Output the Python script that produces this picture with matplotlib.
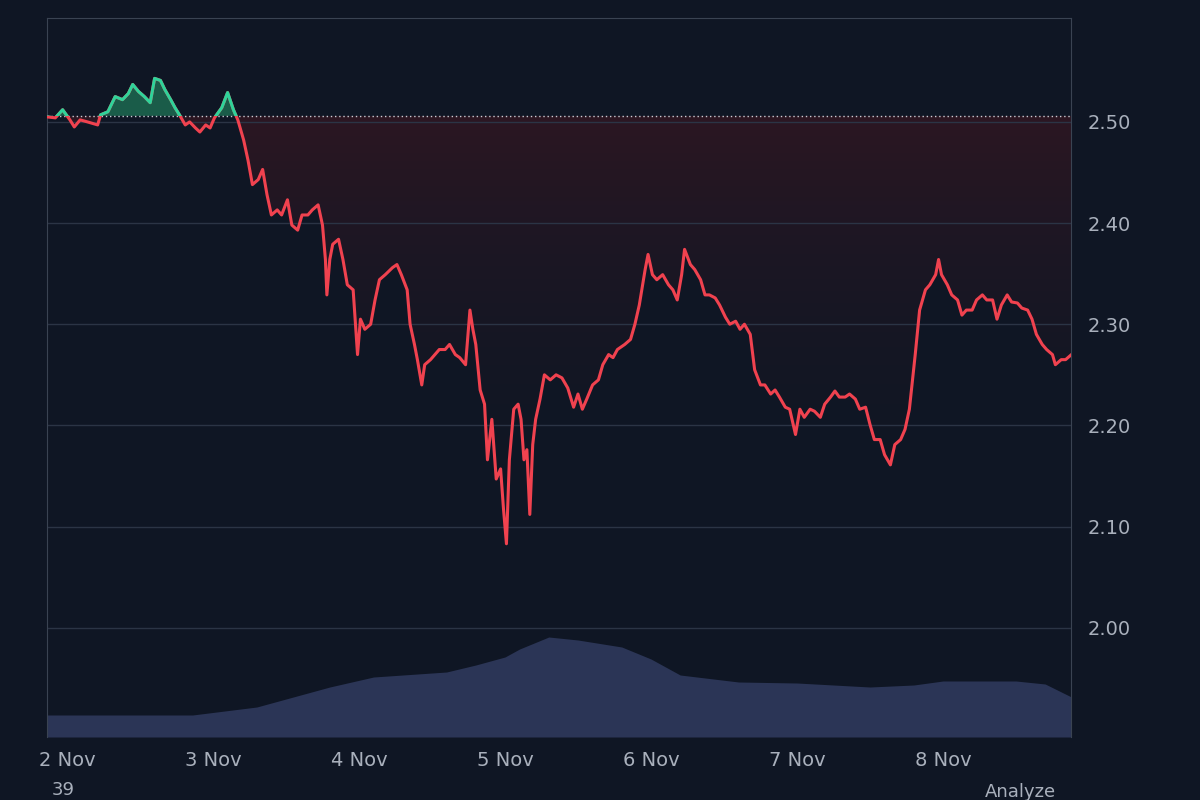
import numpy as np
import matplotlib.pyplot as plt
from matplotlib.colors import LinearSegmentedColormap
from matplotlib.path import Path
from matplotlib.patches import Rectangle

times = [-0.14,-0.08,-0.03,0.02,0.05,0.09,0.14,0.21,0.23,0.28,0.33,0.38,0.42,0.45,0.49,0.53,0.57,0.60,0.64,0.67,0.71,0.74,0.77,0.81,0.84,0.88,0.91,0.95,0.98,1.01,1.06,1.10,1.14,1.17,1.21,1.24,1.27,1.31,1.34,1.37,1.40,1.44,1.47,1.51,1.54,1.58,1.61,1.65,1.68,1.72,1.75,1.77,1.78,1.80,1.82,1.86,1.89,1.92,1.96,1.99,2.01,2.04,2.08,2.11,2.14,2.18,2.23,2.26,2.29,2.33,2.35,2.38,2.40,2.43,2.45,2.49,2.52,2.55,2.59,2.62,2.66,2.69,2.73,2.76,2.78,2.80,2.83,2.86,2.88,2.91,2.94,2.97,2.99,3.01,3.03,3.06,3.09,3.11,3.13,3.15,3.17,3.19,3.21,3.24,3.27,3.31,3.35,3.39,3.43,3.47,3.50,3.53,3.56,3.60,3.64,3.67,3.71,3.74,3.77,3.82,3.86,3.89,3.92,3.96,3.98,4.01,4.04,4.08,4.12,4.15,4.18,4.21,4.23,4.27,4.30,4.34,4.37,4.40,4.44,4.47,4.51,4.54,4.58,4.61,4.64,4.68,4.71,4.75,4.78,4.82,4.85,4.88,4.92,4.95,4.99,5.02,5.05,5.09,5.12,5.16,5.19,5.23,5.26,5.29,5.33,5.36,5.40,5.43,5.47,5.50,5.53,5.57,5.60,5.64,5.67,5.71,5.74,5.77,5.81,5.84,5.88,5.91,5.95,5.97,5.99,6.03,6.06,6.10,6.13,6.16,6.20,6.23,6.27,6.30,6.34,6.37,6.40,6.44,6.47,6.51,6.54,6.58,6.61,6.64,6.68,6.71,6.75,6.77,6.81,6.84,6.88]
price = [2.505,2.504,2.512,2.502,2.495,2.502,2.500,2.497,2.507,2.510,2.525,2.522,2.528,2.537,2.530,2.525,2.519,2.543,2.541,2.532,2.522,2.514,2.507,2.497,2.500,2.494,2.490,2.497,2.494,2.504,2.514,2.529,2.512,2.502,2.482,2.462,2.438,2.443,2.453,2.428,2.408,2.413,2.408,2.423,2.398,2.393,2.408,2.408,2.413,2.418,2.398,2.364,2.329,2.364,2.379,2.384,2.364,2.339,2.334,2.270,2.305,2.295,2.300,2.324,2.344,2.349,2.356,2.359,2.349,2.334,2.300,2.280,2.265,2.240,2.260,2.265,2.270,2.275,2.275,2.280,2.270,2.267,2.260,2.314,2.295,2.280,2.235,2.221,2.166,2.206,2.147,2.157,2.117,2.083,2.166,2.216,2.221,2.206,2.166,2.176,2.112,2.181,2.206,2.226,2.250,2.245,2.250,2.247,2.237,2.218,2.231,2.216,2.226,2.240,2.245,2.260,2.270,2.267,2.275,2.280,2.285,2.300,2.319,2.354,2.369,2.349,2.344,2.349,2.339,2.334,2.324,2.349,2.374,2.359,2.354,2.344,2.329,2.329,2.326,2.319,2.307,2.300,2.303,2.295,2.300,2.290,2.255,2.240,2.240,2.231,2.235,2.228,2.218,2.216,2.191,2.216,2.208,2.216,2.214,2.208,2.221,2.228,2.234,2.228,2.228,2.231,2.226,2.216,2.218,2.201,2.186,2.186,2.171,2.161,2.181,2.186,2.196,2.216,2.270,2.314,2.334,2.339,2.349,2.364,2.349,2.339,2.329,2.324,2.309,2.314,2.314,2.324,2.329,2.324,2.324,2.305,2.319,2.329,2.322,2.321,2.316,2.314,2.305,2.290,2.280,2.275,2.270,2.260,2.265,2.265,2.270]
n = min(len(times), len(price))
times, price = times[:n], price[:n]
baseline = 2.506

vol_t = [-0.14, 0.86, 1.3, 1.8, 2.1, 2.6, 2.8, 3.0, 3.1, 3.3, 3.5, 3.8, 4.0, 4.2, 4.6, 5.0, 5.5, 5.8, 6.0, 6.5, 6.7, 6.88]
vol = [2.2, 2.2, 3.0, 5.0, 6.0, 6.5, 7.2, 8.0, 8.8, 10.0, 9.7, 9.0, 7.8, 6.2, 5.5, 5.4, 5.0, 5.2, 5.6, 5.6, 5.3, 4.0]

tick_labels = ['2 Nov','3 Nov','4 Nov','5 Nov','6 Nov','7 Nov','8 Nov']
yticks = [2.00, 2.10, 2.20, 2.30, 2.40, 2.50]

bg = '#0f1624'
t_start, t_end = -0.137, 6.877
ylo, yhi = 1.892, 2.6027
fig = plt.figure(figsize=(12, 8), dpi=100, facecolor=bg)
axv = fig.add_axes([47/1200, 63/800, 1024/1200, 719/800])
axv.set_facecolor(bg)
axv.fill_between(vol_t, 0, vol, color='#2b3556', lw=0)
axv.set_xlim(t_start, t_end)
axv.set_ylim(0, 71.9)
axv.axis('off')

ax = fig.add_axes([47/1200, 63/800, 1024/1200, 719/800])
ax.patch.set_visible(False)
t = np.array(times)
p = np.array(price)

cmap = LinearSegmentedColormap.from_list('r', [(0.06, 0.086, 0.14, 0.0), (0.33, 0.09, 0.13, 0.42)])
grad = np.linspace(0, 1, 256).reshape(-1, 1)
im = ax.imshow(grad, extent=[t_start, t_end, p.min(), baseline], origin='lower', aspect='auto', cmap=cmap, zorder=1)
poly = ax.fill_between(t, p, baseline, where=p < baseline, interpolate=True, color='none', lw=0)
im.set_clip_path(Path.make_compound_path(*poly.get_paths()), transform=ax.transData)
ax.fill_between(t, p, baseline, where=p >= baseline, interpolate=True, color='#1f7a5a', alpha=0.7, lw=0)

red_line, = ax.plot(t, p, color='#f0424f', lw=2.2, zorder=3)
green_line, = ax.plot(t, p, color='#2fd39a', lw=2.2, zorder=4)
ax.set_xlim(t_start, t_end)
ax.set_ylim(ylo, yhi)
above = Rectangle((t_start, baseline), t_end - t_start, yhi - baseline, transform=ax.transData, visible=False)
ax.add_patch(above)
green_line.set_clip_path(above)
ax.axhline(baseline, color='#c8ccd4', lw=1, ls=(0, (1, 2)), zorder=2)

ax.yaxis.tick_right()
ax.set_yticks(yticks)
ax.set_yticklabels([f'{v:.2f}' for v in yticks], color='#a9b0bc', fontsize=14)
ax.set_xticks(range(len(tick_labels)))
ax.set_xticklabels(tick_labels, color='#a9b0bc', fontsize=14)
ax.tick_params(length=0, pad=10)
ax.tick_params(axis='y', pad=12)
ax.grid(axis='y', color='#2b3445', lw=1, zorder=0)
for s in ['top', 'right', 'left']:
    ax.spines[s].set_color('#3a4352')
ax.spines['bottom'].set_visible(False)

fig.text(52/1200, 1 - 790/800, '39', color='#a9b0bc', fontsize=13, va='center')
fig.text(985/1200, 1 - 792/800, 'Analyze', color='#a9b0bc', fontsize=13, va='center')
fig.savefig('out.png', dpi=100, facecolor=bg)
